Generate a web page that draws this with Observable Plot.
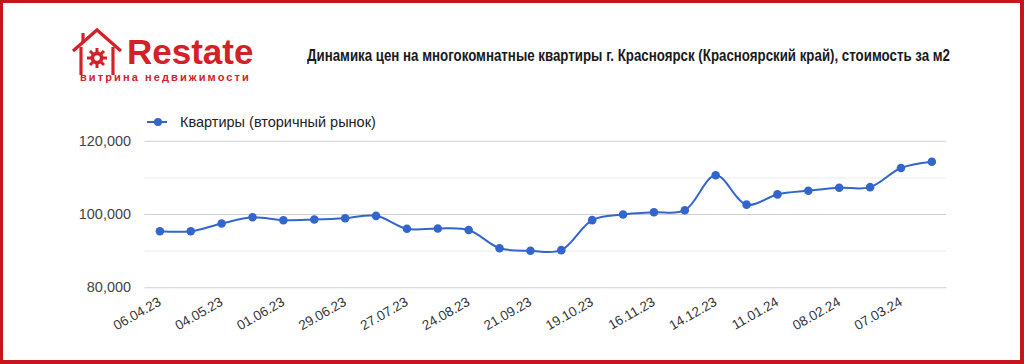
<!DOCTYPE html>
<html>
<head>
<meta charset="utf-8">
<script src="https://cdn.jsdelivr.net/npm/d3@7"></script>
<script src="https://cdn.jsdelivr.net/npm/@observablehq/plot@0.6"></script>
<style>
  html, body { margin: 0; padding: 0; background: #fff; }
  #frame {
    position: relative; width: 1024px; height: 364px; box-sizing: border-box;
    border-style: solid; border-color: #c4161c; border-width: 3px 4px 4px 3px;
    background: #fff; overflow: hidden; font-family: "Liberation Sans", Arial, sans-serif;
  }
  #logo { position: absolute; left: 66px; top: 22px; }
  #title {
    position: absolute; left: 304px; top: 43px; white-space: nowrap;
    font-family: "Liberation Sans", Arial, sans-serif;
    font-weight: bold; font-size: 17px; color: #1a1a1a; transform-origin: 0 50%;
  }
  #legend {
    position: absolute; left: 142px; top: 111px; display: flex; align-items: center;
    font-size: 14.5px; color: #222;
  }
  #chart { position: absolute; left: -3px; top: 94px; }
</style>
</head>
<body>
<div id="frame">
  <div id="logo">
    <svg width="190" height="66" viewBox="0 0 190 66">
      <g stroke="#d42027" fill="none" stroke-width="3.2" stroke-linejoin="miter">
        <polyline points="4,26 28,5 52,26"/>
        <line x1="12" y1="22" x2="12" y2="50"/>
        <line x1="44" y1="22" x2="44" y2="50"/>
        <line x1="14" y1="8" x2="14" y2="17"/>
      </g>
      <g fill="#d42027">
        <circle cx="28" cy="33" r="6.5"/>
        <g stroke="#d42027" stroke-width="3">
          <line x1="28" y1="23" x2="28" y2="43"/>
          <line x1="18" y1="33" x2="38" y2="33"/>
          <line x1="21" y1="26" x2="35" y2="40"/>
          <line x1="35" y1="26" x2="21" y2="40"/>
        </g>
        <circle cx="28" cy="33" r="2.8" fill="#fff"/>
      </g>
      <path d="M80,1 A9,9 0 0 1 92,15 A7.5,7.5 0 0 0 80,1 Z" fill="#c8c8c8"/>
      <text x="58" y="39" font-family="Liberation Sans, Arial, sans-serif" font-weight="bold" font-size="35" fill="#d42027">Restate</text>
      <text x="11" y="56" font-family="Liberation Sans, Arial, sans-serif" font-weight="bold" font-size="11" letter-spacing="2.1" fill="#d42027">витрина недвижимости</text>
    </svg>
  </div>
  <div id="title">Динамика цен на многокомнатные квартиры г. Красноярск (Красноярский край), стоимость за м2</div>
  <div id="legend">
    <svg width="30" height="14"><line x1="2" y1="7" x2="22" y2="7" stroke="#3366cc" stroke-width="2"/><circle cx="13" cy="7" r="4" fill="#3366cc"/></svg>
    <span style="margin-left:5px">Квартиры (вторичный рынок)</span>
  </div>
  <div id="chart"></div>
</div>
<script>
const dates = [
  "06.04.23","20.04.23","04.05.23","18.05.23","01.06.23","15.06.23","29.06.23","13.07.23",
  "27.07.23","10.08.23","24.08.23","07.09.23","21.09.23","05.10.23","19.10.23","02.11.23",
  "16.11.23","30.11.23","14.12.23","28.12.23","11.01.24","25.01.24","08.02.24","22.02.24",
  "07.03.24","21.03.24"
];
const prices = [
  95450, 95450, 97550, 99270, 98450, 98640, 99000, 99640,
  96100, 96190, 95770, 90810, 90090, 90270, 98470, 100000,
  100630, 101170, 110720, 102700, 105500, 106490, 107300, 107480,
  112700, 114410
];
const seriesName = "Квартиры (вторичный рынок)";
const xTickLabels = dates.filter((d, i) => i % 2 === 0);
const yMajorTicks = [80000, 100000, 120000];
const yMinorTicks = [90000, 110000];

const data = dates.map((d, i) => ({date: d, price: prices[i], series: seriesName}));

const chart = Plot.plot({
  width: 1024,
  height: 250,
  marginLeft: 160,
  marginRight: 89,
  marginTop: 44,
  marginBottom: 59,
  style: {background: "transparent", fontFamily: "Liberation Sans, Arial, sans-serif"},
  x: {type: "point", domain: dates, padding: 0, axis: null},
  y: {domain: [80000, 120000], axis: null},
  marks: [
    Plot.ruleY(yMinorTicks, {stroke: "#ebebeb", strokeWidth: 1, insetLeft: -15, insetRight: -15}),
    Plot.ruleY(yMajorTicks, {stroke: "#d0d0d0", strokeWidth: 1, insetLeft: -15, insetRight: -15}),
    Plot.axisY({ticks: yMajorTicks, tickSize: 0, tickPadding: 29, tickFormat: d3.format(","),
      fontSize: 14.5, fill: "#444", label: null}),
    Plot.axisX({ticks: xTickLabels, tickSize: 0, tickPadding: 13, tickRotate: -30,
      fontSize: 13.5, fill: "#333", label: null}),
    Plot.line(data, {x: "date", y: "price", curve: "catmull-rom", stroke: "#3366cc", strokeWidth: 2}),
    Plot.dot(data, {x: "date", y: "price", r: 4.3, fill: "#3366cc"})
  ]
});
document.getElementById("chart").appendChild(chart);

// fit the condensed title into its width
const title = document.getElementById("title");
const w = title.getBoundingClientRect().width;
title.style.transform = `scaleX(${643 / w})`;
</script>
</body>
</html>
